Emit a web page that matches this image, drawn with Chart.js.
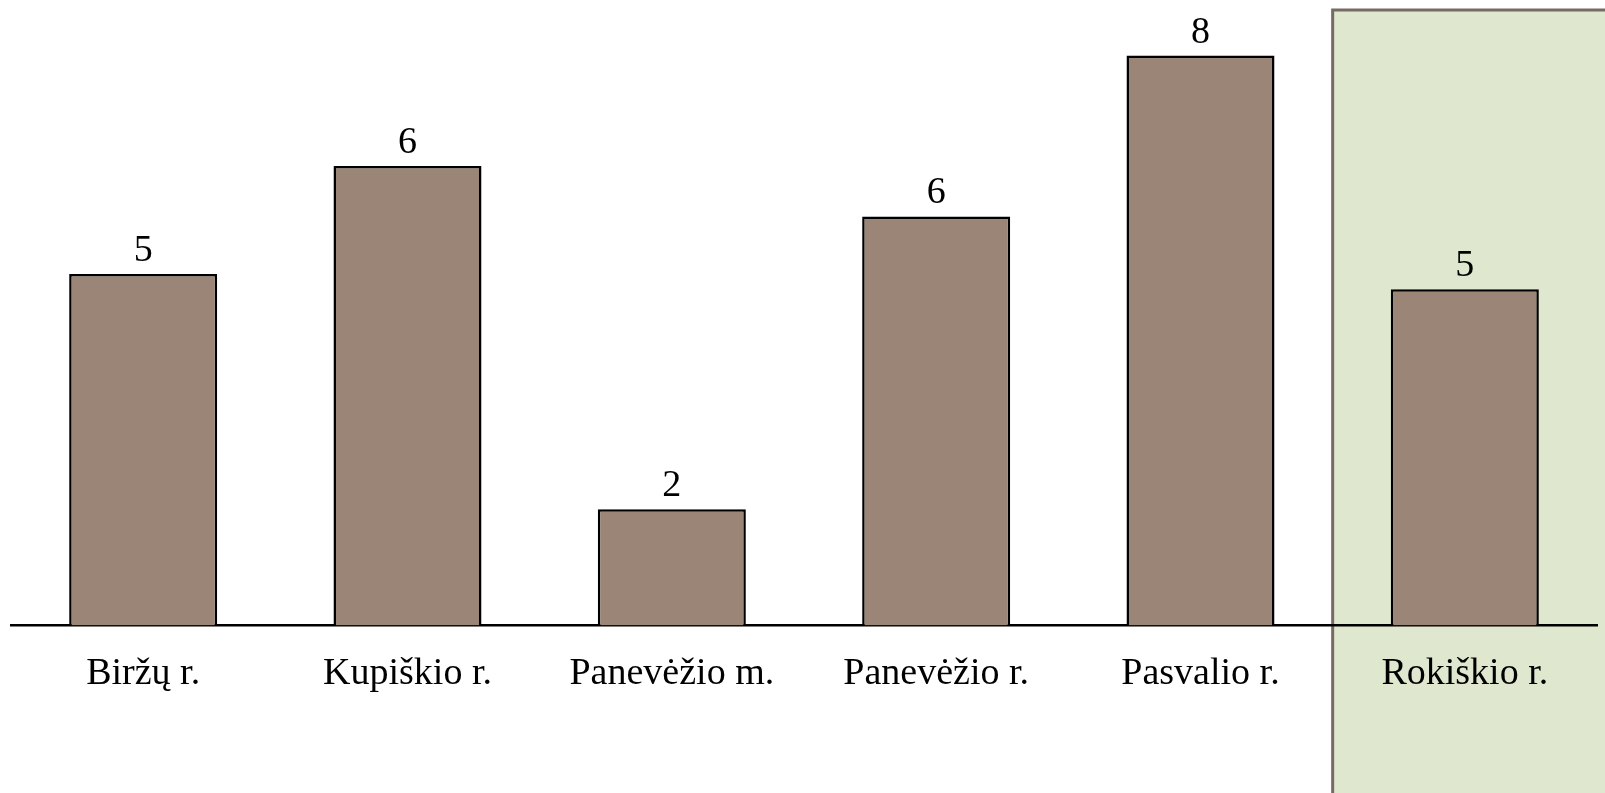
<!DOCTYPE html>
<html>
<head>
<meta charset="utf-8">
<script src="https://cdn.jsdelivr.net/npm/chart.js@4.4.1/dist/chart.umd.min.js"></script>
<style>
  html, body { margin: 0; padding: 0; background: #ffffff; }
  #wrap { width: 1605px; height: 793px; position: relative; }
</style>
</head>
<body>
<div id="wrap"><canvas id="barChart"></canvas></div>
<script>
var categories = ['Biržų r.', 'Kupiškio r.', 'Panevėžio m.', 'Panevėžio r.', 'Pasvalio r.', 'Rokiškio r.'];
var values = [4.87, 6.37, 1.61, 5.67, 7.9, 4.66];
var highlighted = 5;

var serif = '"Liberation Serif", "DejaVu Serif", serif';

// green panel behind the last district (drawn before axis and bars)
var highlightBox = {
    id: 'highlightBox',
    beforeDraw: function (chart) {
        var ctx = chart.ctx;
        var x = chart.scales.x;
        var half = (x.getPixelForValue(1) - x.getPixelForValue(0)) / 2;
        var left = x.getPixelForValue(highlighted) - half;
        ctx.save();
        ctx.fillStyle = '#dfe7cf';
        ctx.fillRect(left, 10, chart.width - left, chart.height - 10);
        ctx.strokeStyle = '#776a62';
        ctx.lineWidth = 3;
        ctx.beginPath();
        ctx.moveTo(left, chart.height);
        ctx.lineTo(left, 10);
        ctx.lineTo(chart.width, 10);
        ctx.stroke();
        ctx.restore();
    }
};

// numbers above bars
var valueLabels = {
    id: 'valueLabels',
    afterDatasetsDraw: function (chart) {
        var ctx = chart.ctx;
        var meta = chart.getDatasetMeta(0);
        ctx.save();
        ctx.fillStyle = '#000000';
        ctx.font = '38px ' + serif;
        ctx.textAlign = 'center';
        ctx.textBaseline = 'alphabetic';
        meta.data.forEach(function (bar, i) {
            ctx.fillText(Math.round(values[i]).toString(), bar.x, bar.y - 13);
        });
        ctx.restore();
    }
};

var ctx = document.getElementById('barChart').getContext('2d');

var data = {
    labels: categories,
    datasets: [{
        data: values,
        backgroundColor: '#9b8577',
        borderColor: '#000000',
        borderWidth: 2.5,
        borderSkipped: 'bottom',
        barPercentage: 0.56,
        categoryPercentage: 1
    }]
};

var options = {
    responsive: true,
    maintainAspectRatio: false,
    animation: false,
    layout: {
        padding: { left: 11, right: 8, top: 0, bottom: 70 }
    },
    plugins: {
        legend: { display: false },
        tooltip: { enabled: false }
    },
    scales: {
        x: {
            grid: { display: false, drawTicks: false },
            border: { display: true, color: '#000000', width: 2.5 },
            ticks: {
                color: '#000000',
                padding: 26,
                font: { family: serif, size: 38 }
            }
        },
        y: {
            display: false,
            min: 0,
            max: 8.67
        }
    }
};

var barChart = new Chart(ctx, {
    type: 'bar',
    data: data,
    options: options,
    plugins: [highlightBox, valueLabels]
});
</script>
</body>
</html>
